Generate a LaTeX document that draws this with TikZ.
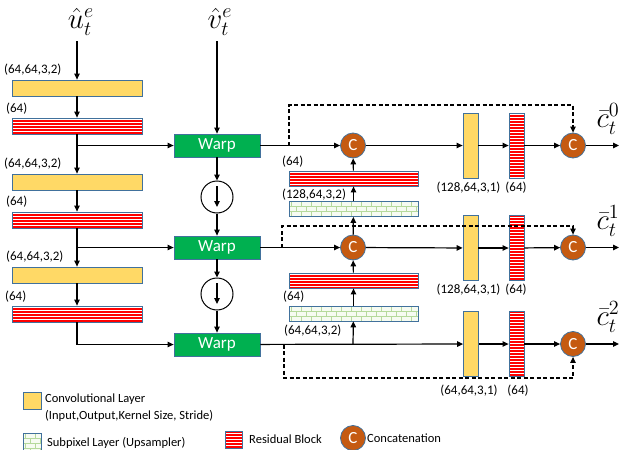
\documentclass[tikz,border=0pt]{standalone}
\usepackage{fontspec}
\usepackage{graphicx}
\setmainfont{Carlito}
\usetikzlibrary{arrows.meta,calc}
\definecolor{convY}{HTML}{FFD966}
\definecolor{edgeB}{HTML}{41719C}
\definecolor{warpG}{HTML}{00B050}
\definecolor{catO}{HTML}{C55A11}
\definecolor{resR}{HTML}{FF0000}
\definecolor{subG}{HTML}{B5D99C}
\definecolor{subBg}{HTML}{F6FBF2}
\newcommand{\biglab}[1]{\scalebox{1.4}{$#1$}}
\tikzset{
  convbox/.style={draw=edgeB, line width=0.8pt, fill=convY, inner sep=0pt},
  resbox/.style={draw=edgeB, line width=0.8pt, inner sep=0pt, fill=resR,
     path picture={
       \foreach \k in {0,...,24}{
         \draw[white,line width=1.1pt]
           ($(path picture bounding box.north west)+(-1,1.6+3*\k)$) --
           ($(path picture bounding box.north east)+(1,1.6+3*\k)$);}
     }},
  subbox/.style={draw=edgeB, line width=0.8pt, inner sep=0pt, fill=subBg,
     path picture={
       \foreach \r in {0,...,4}{
         \draw[subG,line width=0.6pt]
           ($(path picture bounding box.north west)+(-1,5*\r)$) --
           ($(path picture bounding box.north east)+(1,5*\r)$);
         \foreach \c in {0,...,13}{
           \pgfmathsetmacro{\xo}{10*\c+5*mod(\r,2)+2}
           \draw[subG,line width=0.6pt]
             ($(path picture bounding box.north west)+(\xo,5*\r)$) -- ++(0,5);}}
     }},
  hbar/.style={minimum width=130pt, minimum height=16pt},
  vbar/.style={minimum width=15pt, minimum height=65pt},
  warpbox/.style={draw=edgeB, line width=0.8pt, fill=warpG, text=white, inner sep=0pt,
     minimum width=86pt, minimum height=23pt, font=\fontsize{17}{19}\selectfont},
  downnode/.style={circle, draw=black, line width=1pt, minimum size=32pt, inner sep=0pt},
  catnode/.style={circle, draw=edgeB, line width=0.8pt, fill=catO, text=white, minimum size=25pt,
     inner sep=0pt, font=\fontsize{17}{19}\selectfont},
  lab/.style={inner sep=0pt, font=\fontsize{13}{15}\selectfont},
  legtext/.style={inner sep=0pt, anchor=west, font=\fontsize{12.5}{14}\selectfont},
  mathlab/.style={inner sep=1pt, font=\huge},
  conn/.style={line width=1.2pt, -{Triangle[length=6pt,width=5.5pt]}},
  plain/.style={line width=1.2pt},
  dconn/.style={line width=1.2pt, dash pattern=on 4pt off 2.5pt, -{Triangle[length=6pt,width=5.5pt]}}
}
\begin{document}
\begin{tikzpicture}[x=1pt,y=-1pt]
\useasboundingbox (0,0) rectangle (622,450);

% left encoder column
\node[mathlab] (uin) at (81,22) {\biglab{\hat{u}_t^e}};
\node[convbox,hbar] (cv1) at (77,88) {};
\node[resbox,hbar] (rs1) at (77,126) {};
\node[convbox,hbar] (cv2) at (77,182) {};
\node[resbox,hbar] (rs2) at (77,220) {};
\node[convbox,hbar] (cv3) at (77,275) {};
\node[resbox,hbar] (rs3) at (77,314) {};

\node[lab,anchor=west] (l1) at (4,70) {(64,64,3,2)};
\node[lab,anchor=west] (l2) at (6,109) {(64)};
\node[lab,anchor=west] (l3) at (4,164) {(64,64,3,2)};
\node[lab,anchor=west] (l4) at (6,202) {(64)};
\node[lab,anchor=west] (l5) at (6,257) {(64,64,3,2)};
\node[lab,anchor=west] (l6) at (5,297) {(64)};

% middle column
\node[mathlab] (vin) at (220,22) {\biglab{\hat{v}_t^e}};
\node[warpbox] (w1) at (217,145.5) {Warp};
\node[downnode] (d1) at (217,197) {};
\node[warpbox] (w2) at (217,247.5) {Warp};
\node[downnode] (d2) at (217,294) {};
\node[warpbox] (w3) at (217,344.5) {Warp};

% concatenations
\node[catnode] (c1) at (353,145.5) {C};
\node[catnode] (c2) at (353,247.5) {C};
\node[catnode] (o0) at (573,145.5) {C};
\node[catnode] (o1) at (573,247.5) {C};
\node[catnode] (o2) at (573,344) {C};

% upsampling blocks
\node[resbox,minimum width=129pt,minimum height=15pt] (rr1) at (353.5,178.5) {};
\node[subbox,minimum width=129pt,minimum height=15pt] (sp1) at (353.5,209) {};
\node[resbox,minimum width=129pt,minimum height=15pt] (rr2) at (353.5,280.5) {};
\node[subbox,minimum width=129pt,minimum height=15pt] (sp2) at (353.5,313.5) {};
\node[lab,anchor=west] (ul1) at (282,162) {(64)};
\node[lab,anchor=west] (ul2) at (282,195) {(128,64,3,2)};
\node[lab,anchor=west] (ul3) at (283,297) {(64)};
\node[lab,anchor=west] (ul4) at (284,331) {(64,64,3,2)};

% vertical bars
\node[convbox,vbar] (vc0) at (470.5,145.5) {};
\node[resbox,vbar] (vr0) at (516.5,145.5) {};
\node[convbox,vbar] (vc1) at (470.5,248) {};
\node[resbox,vbar] (vr1) at (516.5,248) {};
\node[convbox,vbar] (vc2) at (471,344) {};
\node[resbox,vbar] (vr2) at (516.5,344) {};
\node[lab] (vl0a) at (468.5,187.5) {(128,64,3,1)};
\node[lab] (vl0b) at (516,187.5) {(64)};
\node[lab] (vl1a) at (468.5,290) {(128,64,3,1)};
\node[lab] (vl1b) at (516,290) {(64)};
\node[lab] (vl2a) at (469,391) {(64,64,3,1)};
\node[lab] (vl2b) at (518,391) {(64)};

% outputs
\node[mathlab] (y0) at (608,119) {\biglab{\bar{c}_t^0}};
\node[mathlab] (y1) at (608,221) {\biglab{\bar{c}_t^1}};
\node[mathlab] (y2) at (608,317) {\biglab{\bar{c}_t^2}};
\coordinate (e0) at (619,145.5);
\coordinate (e1) at (619,247.5);
\coordinate (e2) at (619,344);

% branch coordinates
\coordinate (b1) at (77,145.5);
\coordinate (b2) at (77,247.5);
\coordinate (u2) at (353,344.5);
\coordinate (da0) at (289,145.5);
\coordinate (da1) at (282,247.5);
\coordinate (da2) at (284,344.5);
\coordinate (ut) at (77,41);
\coordinate (vt) at (217,41);

% left column connectors
\draw[conn] (ut) -- (cv1.north);
\draw[conn] (cv1) -- (rs1);
\draw[plain] (rs1.south) -- (b1);
\draw[conn] (b1) -- (w1.west);
\draw[conn] (b1) -- (cv2.north);
\draw[conn] (cv2) -- (rs2);
\draw[plain] (rs2.south) -- (b2);
\draw[conn] (b2) -- (w2.west);
\draw[conn] (b2) -- (cv3.north);
\draw[conn] (cv3) -- (rs3);
\draw[conn] (rs3.south) |- (w3.west);

% middle connectors
\draw[conn] (vt) -- (w1.north);
\draw[conn] (w1) -- (d1);
\draw[conn] (d1) -- (w2);
\draw[conn] (w2) -- (d2);
\draw[conn] (d2) -- (w3);
\draw[conn] ($(d1.center)+(0,-11)$) -- ($(d1.center)+(0,10)$);
\draw[conn] ($(d2.center)+(0,-11)$) -- ($(d2.center)+(0,10)$);

% row 0
\draw[conn] (w1) -- (c1);
\draw[conn] (c1) -- (vc0);
\draw[conn] (vc0) -- (vr0);
\draw[conn] (vr0) -- (o0);
\draw[conn] (o0) -- (e0);
% row 1
\draw[conn] (w2) -- (c2);
\draw[conn] (c2) -- (vc1);
\draw[conn] (vc1) -- (vr1);
\draw[conn] (vr1) -- (o1);
\draw[conn] (o1) -- (e1);
% row 2
\draw[conn] (w3) -- (vc2);
\draw[conn] (vc2) -- (vr2);
\draw[conn] (vr2) -- (o2);
\draw[conn] (o2) -- (e2);

% upsampling connectors
\draw[conn] (u2) -- (sp2);
\draw[conn] (sp2) -- (rr2);
\draw[conn] (rr2) -- (c2);
\draw[conn] (c2) -- (sp1);
\draw[conn] (sp1) -- (rr1);
\draw[conn] (rr1) -- (c1);

% dashed skip connections
\draw[dconn] (da0) -- ++(0,-40.5) -| (o0.north);
\draw[dconn] (da1) -- ++(0,-21.5) -| (o1.north);
\draw[dconn] (da2) -- ++(0,33.5) -| (o2.south);

% legend
\node[convbox,minimum width=18pt,minimum height=17pt] (lg1) at (32,400.5) {};
\node[legtext] (lg1t) at (45,399) {Convolutional Layer};
\node[legtext] (lg1u) at (45,416) {(Input,Output,Kernel Size, Stride)};
\node[subbox,minimum width=18pt,minimum height=17pt] (lg2) at (32,442) {};
\node[legtext] (lg2t) at (47,443) {Subpixel Layer (Upsampler)};
\node[resbox,minimum width=17pt,minimum height=17pt] (lg3) at (233.5,440) {};
\node[legtext] (lg3t) at (249,439) {Residual Block};
\node[catnode] (lg4) at (353,438) {C};
\node[legtext] (lg4t) at (367,438) {Concatenation};
\end{tikzpicture}
\end{document}
